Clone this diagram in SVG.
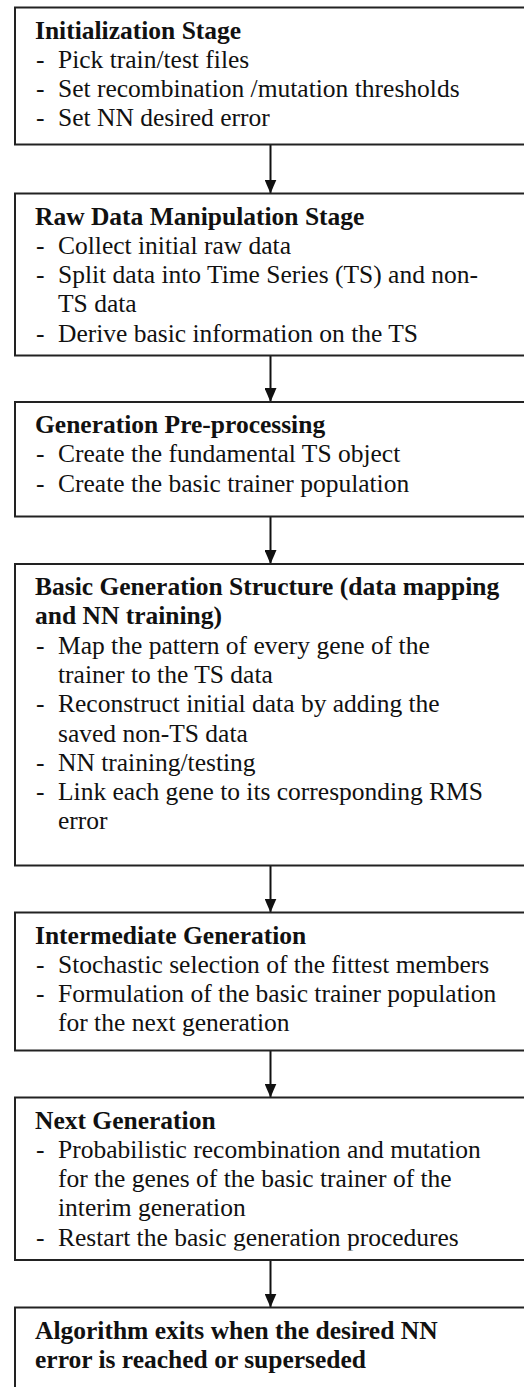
<svg xmlns="http://www.w3.org/2000/svg" width="524" height="1387" viewBox="0 0 524 1387">
<style>
.box{fill:#fff;stroke:#222;stroke-width:2}
.t{font-family:"Liberation Serif","Times New Roman",serif;font-size:25.5px;fill:#111}
.b{font-weight:bold}
.edge{stroke:#111;stroke-width:2;fill:none}
</style>
<defs>
<marker id="ah" viewBox="0 0 14 12" refX="14" refY="6" markerWidth="14" markerHeight="12" markerUnits="userSpaceOnUse" orient="auto">
<path d="M0,0 L14,6 L0,12 Z" fill="#111"/>
</marker>
<clipPath id="clip6"><rect x="15" y="1097.5" width="520" height="153"/></clipPath>
</defs>
<rect width="524" height="1387" fill="#fff"/>
<g id="connectors">
<line class="edge" x1="270.5" y1="144.5" x2="270.5" y2="193.5" marker-end="url(#ah)"/>
<line class="edge" x1="270.5" y1="355.5" x2="270.5" y2="402" marker-end="url(#ah)"/>
<line class="edge" x1="270.5" y1="516.5" x2="270.5" y2="564" marker-end="url(#ah)"/>
<line class="edge" x1="270.5" y1="865.5" x2="270.5" y2="912.5" marker-end="url(#ah)"/>
<line class="edge" x1="270.5" y1="1050.5" x2="270.5" y2="1097.5" marker-end="url(#ah)"/>
<line class="edge" x1="270.5" y1="1260" x2="270.5" y2="1307.5" marker-end="url(#ah)"/>
</g>
<g id="n1">
<rect class="box" x="15" y="7.5" width="520" height="137"/>
<text class="t b" x="35" y="38.5">Initialization Stage</text>
<text class="t" x="36" y="67.8">-</text><text class="t" x="58" y="67.8">Pick train/test files</text>
<text class="t" x="36" y="97.1">-</text><text class="t" x="58" y="97.1">Set recombination /mutation thresholds</text>
<text class="t" x="36" y="126.4">-</text><text class="t" x="58" y="126.4">Set NN desired error</text>
</g>
<g id="n2">
<rect class="box" x="15" y="193.5" width="520" height="162"/>
<text class="t b" x="35" y="224.5">Raw Data Manipulation Stage</text>
<text class="t" x="36" y="253.8">-</text><text class="t" x="58" y="253.8">Collect initial raw data</text>
<text class="t" x="36" y="283.1">-</text><text class="t" x="58" y="283.1">Split data into Time Series (TS) and non-</text>
<text class="t" x="58" y="312.4">TS data</text>
<text class="t" x="36" y="341.7">-</text><text class="t" x="58" y="341.7">Derive basic information on the TS</text>
</g>
<g id="n3">
<rect class="box" x="15" y="402" width="520" height="114.5"/>
<text class="t b" x="35" y="433">Generation Pre-processing</text>
<text class="t" x="36" y="462.3">-</text><text class="t" x="58" y="462.3">Create the fundamental TS object</text>
<text class="t" x="36" y="491.6">-</text><text class="t" x="58" y="491.6">Create the basic trainer population</text>
</g>
<g id="n4">
<rect class="box" x="15" y="564" width="520" height="301.5"/>
<text class="t b" x="35" y="595">Basic Generation Structure (data mapping</text>
<text class="t b" x="35" y="624.3">and NN training)</text>
<text class="t" x="36" y="653.6">-</text><text class="t" x="58" y="653.6">Map the pattern of every gene of the</text>
<text class="t" x="58" y="682.9">trainer to the TS data</text>
<text class="t" x="36" y="712.2">-</text><text class="t" x="58" y="712.2">Reconstruct initial data by adding the</text>
<text class="t" x="58" y="741.5">saved non-TS data</text>
<text class="t" x="36" y="770.8">-</text><text class="t" x="58" y="770.8">NN training/testing</text>
<text class="t" x="36" y="800.1">-</text><text class="t" x="58" y="800.1">Link each gene to its corresponding RMS</text>
<text class="t" x="58" y="829.4">error</text>
</g>
<g id="n5">
<rect class="box" x="15" y="912.5" width="520" height="138"/>
<text class="t b" x="35" y="943.5">Intermediate Generation</text>
<text class="t" x="36" y="972.8">-</text><text class="t" x="58" y="972.8">Stochastic selection of the fittest members</text>
<text class="t" x="36" y="1002.1">-</text><text class="t" x="58" y="1002.1">Formulation of the basic trainer population</text>
<text class="t" x="58" y="1031.4">for the next generation</text>
</g>
<g id="n6">
<rect class="box" x="15" y="1097.5" width="520" height="162.5"/>
<g clip-path="url(#clip6)">
<text class="t b" x="35" y="1128.5">Next Generation</text>
<text class="t" x="36" y="1157.8">-</text><text class="t" x="58" y="1157.8">Probabilistic recombination and mutation</text>
<text class="t" x="58" y="1187.1">for the genes of the basic trainer of the</text>
<text class="t" x="58" y="1216.4">interim generation</text>
<text class="t" x="36" y="1245.7">-</text><text class="t" x="58" y="1245.7">Restart the basic generation procedures</text>
</g>
</g>
<g id="n7">
<rect class="box" x="15" y="1307.5" width="520" height="100"/>
<text class="t b" x="35" y="1338.5">Algorithm exits when the desired NN</text>
<text class="t b" x="35" y="1367.8">error is reached or superseded</text>
</g>
</svg>
